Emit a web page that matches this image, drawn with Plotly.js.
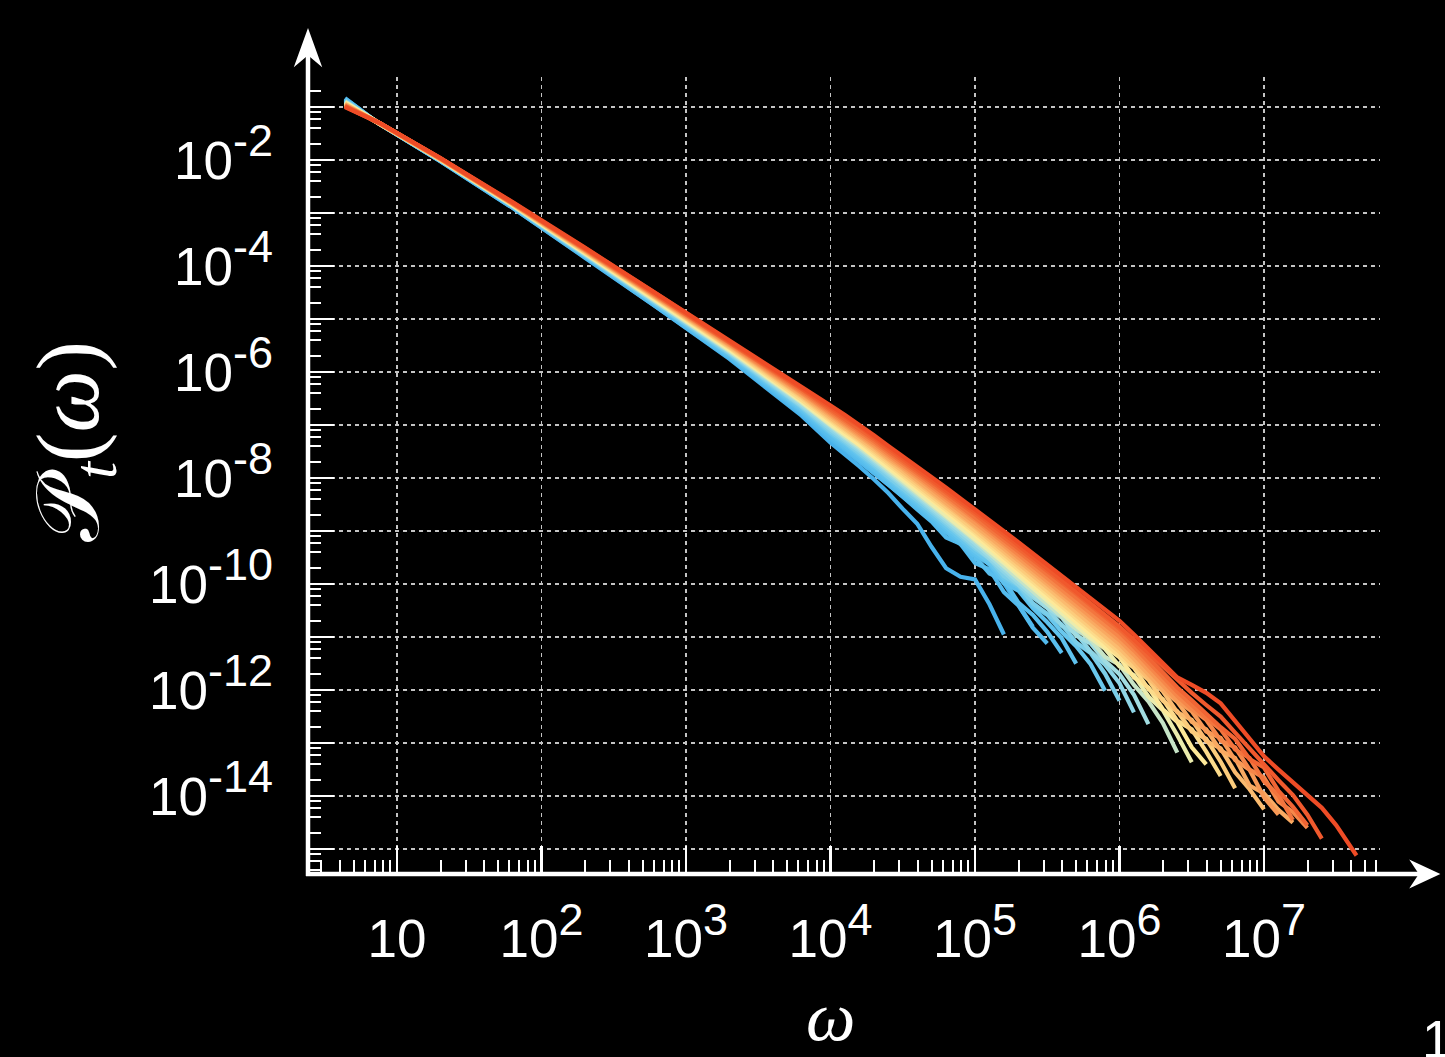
<!DOCTYPE html>
<html>
<head>
<meta charset="utf-8">
<script src="https://cdn.plot.ly/plotly-3.0.1.min.js"></script>
<style>
html, body { margin: 0; padding: 0; background: #000; }
#chart { width: 1445px; height: 1057px; }
</style>
</head>
<body>
<div id="chart"></div>
<script>
// ---------- DATA (log10 values) ----------
const logOmega = [0.64, 0.88, 1.3, 1.8, 2.3, 2.8, 3.3, 3.8, 4.0, 4.1, 4.2, 4.3, 4.4, 4.5, 4.6, 4.7, 4.8, 4.9, 5.0, 5.1, 5.2, 5.3, 5.4, 5.5, 5.6, 5.7, 5.8, 5.9, 6.0, 6.1, 6.2, 6.3, 6.4, 6.5, 6.6, 6.7, 6.8, 6.9, 7.0, 7.1, 7.2, 7.3, 7.4, 7.5, 7.6, 7.64];

// log10 P_t(omega), one series per time t (earliest = blue, latest = red)
const s00 = [-0.83, -1.32, -2.02, -2.90, -3.84, -4.78, -5.75, -6.82, -7.33, -7.55, -7.78, -8.02, -8.28, -8.58, -8.86, -9.30, -9.70, -9.86, -9.91, -10.38, -10.95];
const s01 = [-0.84, -1.32, -2.02, -2.90, -3.83, -4.77, -5.73, -6.79, -7.27, -7.47, -7.68, -7.90, -8.12, -8.35, -8.56, -8.79, -9.01, -9.22, -9.42, -9.63, -9.98, -10.38, -10.80];
const s02 = [-0.85, -1.32, -2.01, -2.89, -3.82, -4.76, -5.72, -6.77, -7.25, -7.45, -7.67, -7.90, -8.13, -8.35, -8.59, -8.82, -9.12, -9.24, -9.60, -9.72, -10.15, -10.40, -10.82, -11.12];
const s03 = [-0.85, -1.32, -2.01, -2.88, -3.81, -4.74, -5.70, -6.74, -7.21, -7.42, -7.63, -7.86, -8.09, -8.31, -8.54, -8.78, -9.01, -9.25, -9.48, -9.80, -9.92, -10.35, -10.58, -10.90, -11.30];
const s04 = [-0.86, -1.32, -2.01, -2.88, -3.80, -4.73, -5.68, -6.72, -7.18, -7.39, -7.60, -7.82, -8.05, -8.27, -8.50, -8.73, -8.97, -9.20, -9.43, -9.62, -9.98, -10.12, -10.45, -10.72, -11.02, -11.50];
const s05 = [-0.87, -1.32, -2.01, -2.87, -3.80, -4.72, -5.66, -6.69, -7.15, -7.35, -7.56, -7.78, -8.01, -8.23, -8.46, -8.69, -8.92, -9.15, -9.38, -9.58, -9.90, -10.05, -10.40, -10.58, -10.90, -11.17, -11.51, -12.01];
const s06 = [-0.88, -1.31, -2.00, -2.87, -3.79, -4.71, -5.65, -6.66, -7.12, -7.32, -7.53, -7.75, -7.98, -8.19, -8.42, -8.64, -8.87, -9.10, -9.33, -9.52, -9.85, -10.02, -10.36, -10.56, -10.76, -11.10, -11.30, -11.69, -12.20];
const s07 = [-0.89, -1.31, -2.00, -2.86, -3.78, -4.69, -5.63, -6.64, -7.08, -7.28, -7.49, -7.71, -7.94, -8.15, -8.37, -8.60, -8.83, -9.05, -9.28, -9.52, -9.77, -10.01, -10.25, -10.45, -10.78, -10.93, -11.27, -11.52, -11.87, -12.42];
const s08 = [-0.90, -1.31, -2.00, -2.86, -3.77, -4.68, -5.61, -6.61, -7.05, -7.25, -7.45, -7.67, -7.90, -8.11, -8.33, -8.56, -8.78, -9.01, -9.23, -9.47, -9.71, -9.95, -10.19, -10.44, -10.63, -10.97, -11.12, -11.45, -11.70, -12.09, -12.64];
const s09 = [-0.90, -1.31, -1.99, -2.85, -3.76, -4.67, -5.60, -6.58, -7.02, -7.22, -7.42, -7.64, -7.86, -8.07, -8.29, -8.51, -8.73, -8.96, -9.18, -9.42, -9.66, -9.90, -10.13, -10.37, -10.61, -10.85, -11.05, -11.37, -11.52, -11.90, -12.21, -12.62, -13.18];
const s10 = [-0.91, -1.31, -1.99, -2.85, -3.75, -4.66, -5.58, -6.56, -6.99, -7.18, -7.38, -7.60, -7.82, -8.03, -8.25, -8.47, -8.69, -8.91, -9.13, -9.37, -9.60, -9.84, -10.08, -10.31, -10.55, -10.78, -11.02, -11.22, -11.55, -11.72, -12.12, -12.38, -12.85, -13.36];
const s11 = [-0.92, -1.31, -1.99, -2.84, -3.74, -4.64, -5.56, -6.53, -6.95, -7.15, -7.35, -7.56, -7.78, -7.99, -8.20, -8.42, -8.64, -8.86, -9.08, -9.31, -9.55, -9.78, -10.02, -10.25, -10.48, -10.72, -10.95, -11.18, -11.38, -11.76, -11.95, -12.36, -12.60, -13.08, -13.40];
const s12 = [-0.93, -1.31, -1.99, -2.84, -3.73, -4.63, -5.54, -6.51, -6.92, -7.12, -7.31, -7.53, -7.74, -7.95, -8.16, -8.38, -8.60, -8.81, -9.03, -9.26, -9.49, -9.73, -9.96, -10.19, -10.42, -10.65, -10.88, -11.11, -11.36, -11.58, -11.98, -12.17, -12.58, -12.74, -13.16, -13.62];
const s13 = [-0.94, -1.31, -1.98, -2.83, -3.72, -4.62, -5.53, -6.48, -6.89, -7.08, -7.28, -7.49, -7.70, -7.90, -8.12, -8.33, -8.55, -8.77, -8.98, -9.21, -9.44, -9.67, -9.90, -10.13, -10.35, -10.58, -10.81, -11.04, -11.28, -11.56, -11.80, -12.20, -12.40, -12.78, -12.92, -13.35, -13.85];
const s14 = [-0.94, -1.31, -1.98, -2.83, -3.71, -4.61, -5.51, -6.45, -6.86, -7.05, -7.24, -7.45, -7.66, -7.86, -8.08, -8.29, -8.50, -8.72, -8.93, -9.16, -9.38, -9.61, -9.84, -10.06, -10.29, -10.52, -10.74, -10.97, -11.21, -11.48, -11.77, -12.02, -12.42, -12.56, -12.96, -13.10, -13.55, -13.87, -14.25];
const s15 = [-0.95, -1.31, -1.98, -2.82, -3.70, -4.59, -5.49, -6.43, -6.82, -7.01, -7.21, -7.41, -7.63, -7.82, -8.04, -8.25, -8.46, -8.67, -8.88, -9.11, -9.33, -9.55, -9.78, -10.00, -10.23, -10.45, -10.68, -10.90, -11.13, -11.41, -11.69, -11.99, -12.22, -12.60, -12.74, -13.14, -13.28, -13.80, -13.95, -14.26, -14.50];
const s16 = [-0.96, -1.30, -1.97, -2.82, -3.70, -4.58, -5.48, -6.40, -6.79, -6.98, -7.17, -7.38, -7.59, -7.78, -7.99, -8.20, -8.41, -8.62, -8.83, -9.05, -9.27, -9.50, -9.72, -9.94, -10.16, -10.38, -10.61, -10.83, -11.06, -11.33, -11.61, -11.91, -12.20, -12.40, -12.78, -12.90, -13.32, -13.50, -14.02, -14.35];
const s17 = [-0.97, -1.30, -1.97, -2.81, -3.69, -4.57, -5.46, -6.38, -6.76, -6.95, -7.13, -7.34, -7.55, -7.74, -7.95, -8.16, -8.36, -8.57, -8.78, -9.00, -9.22, -9.44, -9.66, -9.88, -10.10, -10.32, -10.54, -10.76, -10.99, -11.25, -11.53, -11.82, -12.11, -12.36, -12.56, -12.95, -13.08, -13.50, -13.65, -14.10, -14.30, -14.60];
const s18 = [-0.98, -1.30, -1.97, -2.81, -3.68, -4.56, -5.44, -6.35, -6.73, -6.91, -7.10, -7.30, -7.51, -7.70, -7.91, -8.11, -8.32, -8.52, -8.73, -8.95, -9.16, -9.38, -9.60, -9.82, -10.03, -10.25, -10.47, -10.68, -10.91, -11.18, -11.46, -11.74, -12.03, -12.28, -12.53, -12.74, -13.12, -13.28, -13.72, -13.98, -14.45];
const s19 = [-0.98, -1.30, -1.97, -2.80, -3.67, -4.55, -5.42, -6.32, -6.70, -6.88, -7.06, -7.26, -7.47, -7.66, -7.87, -8.07, -8.27, -8.48, -8.68, -8.90, -9.11, -9.32, -9.54, -9.75, -9.97, -10.18, -10.40, -10.61, -10.84, -11.10, -11.38, -11.66, -11.95, -12.19, -12.45, -12.70, -12.92, -13.30, -13.46, -13.90, -14.20, -14.55];
const s20 = [-0.99, -1.30, -1.96, -2.80, -3.66, -4.53, -5.41, -6.30, -6.66, -6.84, -7.02, -7.22, -7.42, -7.62, -7.82, -8.02, -8.22, -8.43, -8.63, -8.84, -9.05, -9.27, -9.48, -9.70, -9.91, -10.13, -10.35, -10.57, -10.80, -11.05, -11.30, -11.55, -11.82, -12.05, -12.28, -12.50, -12.80, -13.10, -13.42, -13.70, -13.98, -14.35, -14.80];
const s21 = [-1.00, -1.30, -1.96, -2.79, -3.65, -4.52, -5.39, -6.27, -6.63, -6.81, -6.99, -7.19, -7.39, -7.58, -7.78, -7.98, -8.18, -8.38, -8.58, -8.79, -9.00, -9.21, -9.42, -9.63, -9.84, -10.05, -10.26, -10.47, -10.69, -10.95, -11.22, -11.50, -11.76, -11.90, -12.05, -12.25, -12.58, -12.92, -13.25, -13.50, -13.74, -13.98, -14.22, -14.55, -14.95, -15.12];

const seriesLogP = [s00, s01, s02, s03, s04, s05, s06, s07, s08, s09, s10, s11, s12, s13, s14, s15, s16, s17, s18, s19, s20, s21];

// axis ticks
const xTickVals = [1e1, 1e2, 1e3, 1e4, 1e5, 1e6, 1e7];
const xTickBase = ['10', '10', '10', '10', '10', '10', '10'];
const xTickExp = ['', '2', '3', '4', '5', '6', '7'];
const yTickVals = [1e-14, 1e-12, 1e-10, 1e-8, 1e-6, 1e-4, 1e-2];
const yTickBase = ['10', '10', '10', '10', '10', '10', '10'];
const yTickExp = ['-14', '-12', '-10', '-8', '-6', '-4', '-2'];
const yUnlabeledDecades = [1e-15, 1e-13, 1e-11, 1e-9, 1e-7, 1e-5, 1e-3, 1e-1];
const xMinorDigits = [2, 3, 4, 5, 6, 7, 8, 9];
const yMinorDigits = [2, 4, 6, 8];

const xTitleText = '<i>ω</i>';
const yTitleText = '𝒫<sub><i>t</i></sub>(<i>ω</i>)';
const pageNumberText = '1';

// ---------- STYLE / LAYOUT ----------
const W = 1445, H = 1057;
const M = {l: 307, r: 65, t: 77, b: 184};
const PW = W - M.l - M.r, PH = H - M.t - M.b;
const px = v => (v - M.l) / PW;      // pixel x -> paper
const py = v => (H - M.b - v) / PH;  // pixel y -> paper

const supStyle = 'font-size:45px';
const label = (b, e) => e ? `${b}<sup><span style="${supStyle}">${e}</span></sup>` : b;
const xTickText = xTickBase.map((b, i) => label(b, xTickExp[i]));
const yTickText = yTickBase.map((b, i) => label(b, yTickExp[i]));

const colorStops = [
  [0.00, [72, 178, 236]],
  [0.22, [98, 196, 238]],
  [0.38, [160, 220, 226]],
  [0.50, [253, 240, 160]],
  [0.62, [252, 204, 124]],
  [0.76, [248, 154, 86]],
  [0.88, [242, 108, 56]],
  [1.00, [238, 76, 38]]
];
function colorAt(f) {
  for (let i = 1; i < colorStops.length; i++) {
    if (f <= colorStops[i][0]) {
      const [f0, c0] = colorStops[i - 1], [f1, c1] = colorStops[i];
      const u = (f - f0) / (f1 - f0);
      const c = c0.map((v, j) => Math.round(v + u * (c1[j] - v)));
      return `rgb(${c[0]},${c[1]},${c[2]})`;
    }
  }
  const c = colorStops[colorStops.length - 1][1];
  return `rgb(${c[0]},${c[1]},${c[2]})`;
}

const traces = seriesLogP.map((lp, k) => ({
  type: 'scatter',
  mode: 'lines',
  x: lp.map((_, i) => Math.pow(10, logOmega[i])),
  y: lp.map(v => Math.pow(10, v)),
  line: {color: colorAt(k / (seriesLogP.length - 1)), width: 4.2},
  hoverinfo: 'skip',
  showlegend: false
}));
// empty helper trace so the second (unlabelled-decade) y axis is drawn
traces.unshift({type: 'scatter', mode: 'lines', x: [], y: [], xaxis: 'x', yaxis: 'y2', showlegend: false, hoverinfo: 'skip'});

const xMinor = [];
for (let d = 0; d <= 7; d++) xMinorDigits.forEach(m => xMinor.push(m * Math.pow(10, d)));
const yMinor = [];
for (let d = -16; d <= -1; d++) yMinorDigits.forEach(m => yMinor.push(m * Math.pow(10, d)));

const tickFont = {family: 'Liberation Sans, Arial, Helvetica, sans-serif', size: 53, color: '#ffffff'};
const gridStyle = {showgrid: true, gridcolor: '#c4c4c4', gridwidth: 1.5, griddash: '4px,4px'};
const yRange = [-15.45, -15.45 + PH / 53.0];

const layout = {
  width: W, height: H,
  margin: M,
  paper_bgcolor: '#000000',
  plot_bgcolor: '#000000',
  showlegend: false,
  xaxis: Object.assign({
    type: 'log',
    range: [0.377, 0.377 + PW / 144.5],
    tickmode: 'array', tickvals: xTickVals, ticktext: xTickText,
    ticks: 'inside', ticklen: 27, tickwidth: 2.5, tickcolor: '#ffffff',
    ticklabelstandoff: 30,
    tickfont: tickFont,
    minor: {tickmode: 'array', tickvals: xMinor, ticks: 'inside', ticklen: 13, tickwidth: 2, tickcolor: '#ffffff', showgrid: false},
    showline: false, zeroline: false, automargin: false
  }, gridStyle),
  yaxis: Object.assign({
    type: 'log',
    range: yRange,
    tickmode: 'array', tickvals: yTickVals, ticktext: yTickText,
    ticks: 'inside', ticklen: 27, tickwidth: 2.5, tickcolor: '#ffffff',
    ticklabelstandoff: 33,
    tickfont: tickFont,
    minor: {tickmode: 'array', tickvals: yMinor, ticks: 'inside', ticklen: 14, tickwidth: 2, tickcolor: '#ffffff', showgrid: false},
    showline: false, zeroline: false, automargin: false
  }, gridStyle),
  yaxis2: Object.assign({
    type: 'log',
    overlaying: 'y', side: 'left', anchor: 'x',
    range: yRange,
    tickmode: 'array', tickvals: yUnlabeledDecades,
    showticklabels: false,
    ticks: 'inside', ticklen: 27, tickwidth: 2.5, tickcolor: '#ffffff',
    showline: false, zeroline: false, automargin: false
  }, gridStyle),
  shapes: [
    // axis lines
    {type: 'line', xref: 'paper', yref: 'paper', x0: px(306), x1: px(1430), y0: py(874), y1: py(874), line: {color: '#ffffff', width: 4.5}},
    {type: 'line', xref: 'paper', yref: 'paper', x0: px(308), x1: px(308), y0: py(876), y1: py(40), line: {color: '#ffffff', width: 4.5}},
    // arrow heads
    {type: 'path', xref: 'paper', yref: 'paper', fillcolor: '#ffffff', line: {color: '#ffffff', width: 2},
     path: `M ${px(1412)} ${py(862)} L ${px(1438)} ${py(874)} L ${px(1412)} ${py(886)} L ${px(1420)} ${py(874)} Z`},
    {type: 'path', xref: 'paper', yref: 'paper', fillcolor: '#ffffff', line: {color: '#ffffff', width: 2},
     path: `M ${px(296)} ${py(64)} L ${px(308)} ${py(31)} L ${px(320)} ${py(64)} L ${px(308)} ${py(54)} Z`}
  ],
  annotations: [
    {xref: 'paper', yref: 'paper', x: px(830), y: py(1017), xanchor: 'center', yanchor: 'middle', showarrow: false,
     text: xTitleText, font: {family: 'Liberation Serif, DejaVu Serif, serif', size: 70, color: '#ffffff'}},
    {xref: 'paper', yref: 'paper', x: px(75), y: py(442), xanchor: 'center', yanchor: 'middle', showarrow: false, textangle: -90,
     text: yTitleText, font: {family: 'Liberation Serif, DejaVu Serif, DejaVu Sans, serif', size: 88, color: '#ffffff'}},
    {xref: 'paper', yref: 'paper', x: px(1420), y: py(1008), xanchor: 'left', yanchor: 'top', showarrow: false,
     text: pageNumberText, font: {family: 'Liberation Sans, Arial, sans-serif', size: 53, color: '#ffffff'}}
  ]
};

Plotly.newPlot('chart', traces, layout, {staticPlot: true, displayModeBar: false});
</script>
</body>
</html>
